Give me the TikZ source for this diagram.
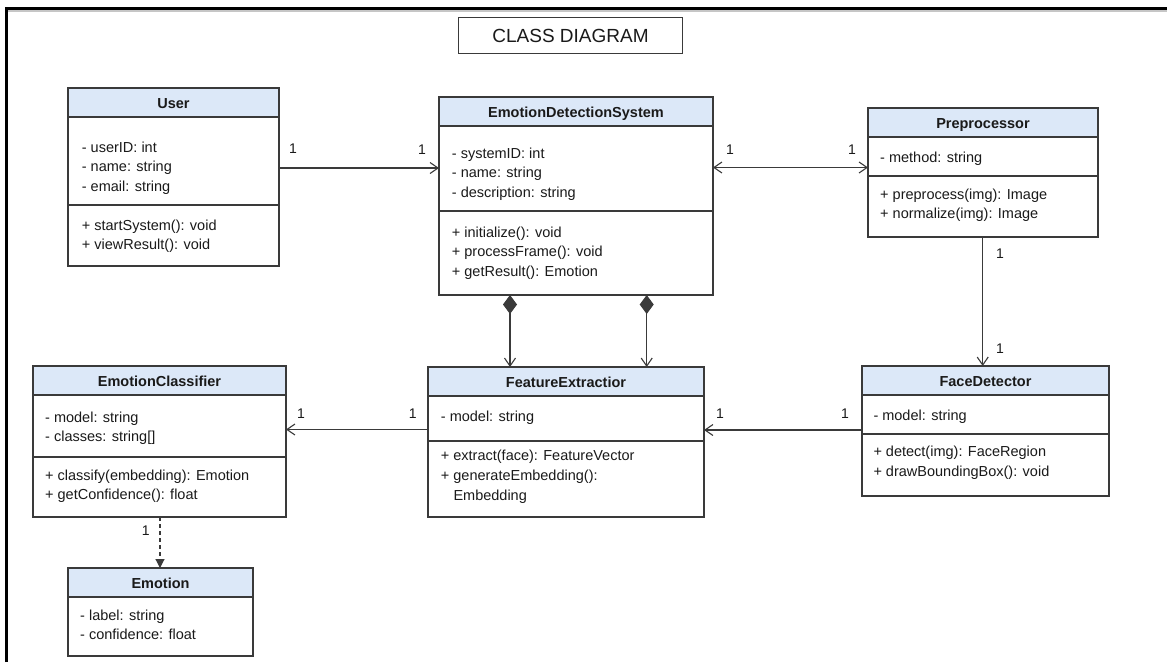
\documentclass[tikz,border=0pt]{standalone}
\usepackage{fontspec}
\setmainfont{Liberation Sans}
\usetikzlibrary{arrows.meta}

\definecolor{linecol}{HTML}{3A3A3A}
\definecolor{headfill}{HTML}{DCE8F8}
\definecolor{inkcol}{HTML}{1A1A1A}

\tikzset{
  classbox/.style={fill=white, inner sep=0pt, outer sep=0pt, anchor=north west},
  classline/.style={draw=linecol, line width=1.1pt},
  classtitle/.style={anchor=base, inner sep=0pt, text=inkcol,
    font=\fontsize{14.5}{17}\selectfont\bfseries},
  member/.style={anchor=base west, inner sep=0pt, text=inkcol,
    font=\fontsize{14.5}{17}\selectfont},
  mult/.style={anchor=base, inner sep=0pt, text=inkcol,
    font=\fontsize{14}{17}\selectfont},
  conn/.style={draw=linecol, line width=1.1pt},
  assoc/.style={conn, -{Straight Barb[length=8pt,width=11pt,line width=1.1pt]}},
  biassoc/.style={conn, {Straight Barb[length=8pt,width=11pt,line width=1.1pt]}-{Straight Barb[length=8pt,width=11pt,line width=1.1pt]}},
  compose/.style={conn, {Diamond[length=19pt,width=14pt]}-{Straight Barb[length=8pt,width=11pt,line width=1.1pt]}},
  depend/.style={conn, dash pattern=on 4pt off 3pt, -{Triangle[length=9pt,width=9pt]}},
}

% #1 name, #2 left, #3 top, #4 width, #5 height, #6 separator offset (0 = none), #7 title
\newcommand\umlclass[7]{%
  \node[classbox, minimum width=#4pt, minimum height=#5pt] (#1) at (#2,#3) {};
  \fill[headfill] (#1.north west) rectangle ([yshift=-29pt]#1.north east);
  \draw[classline] ([yshift=-29pt]#1.north west) -- ([yshift=-29pt]#1.north east);
  \ifnum#6>0
    \draw[classline] ([yshift=-#6pt]#1.north west) -- ([yshift=-#6pt]#1.north east);
  \fi
  \draw[classline] (#1.north west) rectangle (#1.south east);
  \node[classtitle] (#1-title) at ([yshift=-20.3pt]#1.north) {#7};
}

% #1 prefix, #2 left, #3 first baseline, #4 lines
\newcommand\umlmembers[4]{%
  \foreach \txt [count=\i] in {#4} {
    \node[member] (#1-\i) at (#2, #3+19.6*\i-19.6) {\txt};
  }
}

\begin{document}
\begin{tikzpicture}[x=1pt, y=-1pt]
\useasboundingbox (0,0) rectangle (1167,662);
\fill[white] (0,0) rectangle (1167,662);

% page frame
\draw[gray!45, line width=1.5pt] (8,11) -- (1167,11);
\draw[black, line width=3pt] (6.5,662) -- (6.5,8) -- (1167,8);

% heading
\node[draw=linecol, line width=1pt, minimum width=224pt, minimum height=36pt,
      inner sep=0pt, anchor=north west, text=inkcol,
      font=\fontsize{19}{22}\selectfont] (title) at (458,17) {CLASS DIAGRAM};

% classes
\umlclass{user}{68}{88}{211}{178}{117}{User}
\umlmembers{user-a}{81.7}{152}{{- userID: int},{- name: string},{- email: string}}
\umlmembers{user-m}{81.7}{230}{{+ startSystem(): void},{+ viewResult(): void}}

\umlclass{eds}{439}{97}{274}{198}{114}{EmotionDetectionSystem}
\umlmembers{eds-a}{451.7}{158.3}{{- systemID: int},{- name: string},{- description: string}}
\umlmembers{eds-m}{451.7}{237.3}{{+ initialize(): void},{+ processFrame(): void},{+ getResult(): Emotion}}

\umlclass{pre}{868}{108}{230}{129}{68}{Preprocessor}
\umlmembers{pre-a}{880}{162.3}{{- method: string}}
\umlmembers{pre-m}{880}{199.3}{{+ preprocess(img): Image},{+ normalize(img): Image}}

\umlclass{ec}{33}{366}{253}{151}{91}{EmotionClassifier}
\umlmembers{ec-a}{45}{422.3}{{- model: string},{- classes: string[]}}
\umlmembers{ec-m}{45}{480}{{+ classify(embedding): Emotion},{+ getConfidence(): float}}

\umlclass{emo}{68}{568}{185}{88}{0}{Emotion}
\umlmembers{emo-a}{80}{620}{{- label: string},{- confidence: float}}

\umlclass{fe}{428}{367}{276}{150}{74}{FeatureExtractior}
\umlmembers{fe-a}{440.7}{421.7}{{- model: string}}
\umlmembers{fe-m}{440.7}{460.7}{{+ extract(face): FeatureVector},{+ generateEmbedding():}}
\node[member] (fe-m3) at (453.3,500) {Embedding};

\umlclass{fd}{862}{366}{247}{130}{68}{FaceDetector}
\umlmembers{fd-a}{873.3}{420}{{- model: string}}
\umlmembers{fd-m}{873.3}{456.7}{{+ detect(img): FaceRegion},{+ drawBoundingBox(): void}}

% relations
\draw[assoc] (user.east |- 0,168) -- (eds.west |- 0,168);
\node[mult] (m1) at (293,153.5) {1};
\node[mult] (m2) at (422,154) {1};

\draw[biassoc] (pre.west |- 0,167.5) -- (eds.east |- 0,167.5);
\node[mult] (m3) at (730,154) {1};
\node[mult] (m4) at (852,154) {1};

\draw[assoc] (pre.south -| 982.7,0) -- (fd.north -| 982.7,0);
\node[mult] (m5) at (1000,258) {1};
\node[mult] (m6) at (1000,353) {1};

\draw[compose] (eds.south -| 510,0) -- (fe.north -| 510,0);
\draw[compose] (eds.south -| 646.7,0) -- (fe.north -| 646.7,0);

\draw[assoc] (fd.west |- 0,430) -- (fe.east |- 0,430);
\node[mult] (m7) at (720,418.3) {1};
\node[mult] (m8) at (845,418.3) {1};

\draw[assoc] (fe.west |- 0,429.5) -- (ec.east |- 0,429.5);
\node[mult] (m9) at (412.7,418.3) {1};
\node[mult] (m10) at (301,418.3) {1};

\draw[depend] (ec.south -| 160,0) -- (emo.north -| 160,0);
\node[mult] (m11) at (145.7,535) {1};
\end{tikzpicture}
\end{document}
